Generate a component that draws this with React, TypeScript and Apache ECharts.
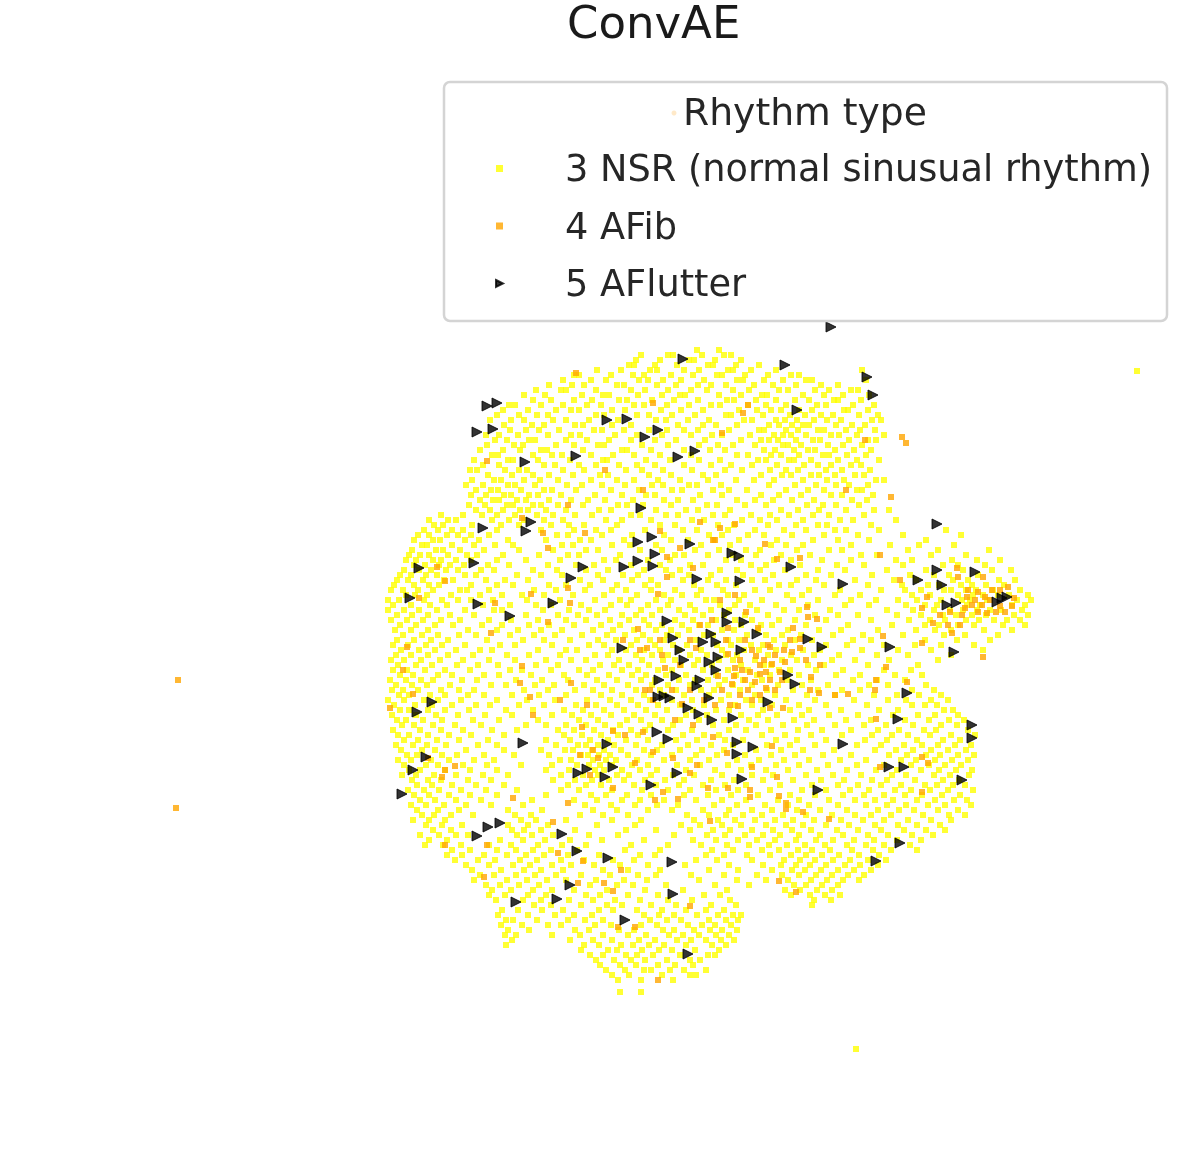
import React, { useEffect, useRef } from "react";
import * as echarts from "echarts";

const chartTitle = "ConvAE";
const legendTitle = "Rhythm type";
const seriesNames = ["3 NSR (normal sinusual rhythm)", "4 AFib", "5 AFlutter"];

const nsrTop: number[][] = [
  [350, 697, 719],
  [355, 641, 668, 673, 702, 724, 731],
  [360, 636, 660, 689, 694, 715, 741],
  [365, 629, 634, 655, 677, 708, 713, 736, 759],
  [370, 597, 621, 650, 657, 684, 699, 728, 733, 751, 776, 862],
  [375, 574, 579, 611, 633, 644, 671, 693, 717, 722, 745, 768, 791, 799],
  [380, 563, 591, 606, 639, 648, 663, 681, 704, 737, 743, 764, 783, 806, 812, 866],
  [385, 549, 572, 584, 617, 624, 657, 676, 698, 711, 726, 754, 773, 796, 821, 838],
  [390, 536, 561, 566, 596, 631, 645, 668, 691, 707, 733, 749, 779, 788, 815, 829, 851, 858],
  [395, 524, 545, 582, 603, 609, 638, 662, 680, 685, 719, 741, 762, 767, 803, 824, 843, 869],
  [400, 533, 551, 574, 592, 619, 627, 652, 674, 698, 727, 734, 756, 776, 795, 809, 834, 838, 861],
  [405, 509, 515, 541, 563, 587, 601, 634, 644, 667, 689, 711, 720, 748, 766, 786, 817, 826, 853, 874],
  [410, 503, 528, 556, 571, 579, 612, 625, 661, 681, 703, 739, 757, 771, 781, 799, 812, 844, 848, 868],
  [415, 497, 519, 537, 548, 596, 604, 637, 649, 672, 695, 726, 731, 763, 790, 805, 821, 833, 859, 878],
  [420, 490, 511, 524, 553, 566, 589, 618, 656, 666, 688, 709, 744, 752, 776, 785, 797, 814, 827, 841, 872, 881],
  [425, 504, 532, 544, 575, 583, 612, 631, 678, 703, 716, 737, 769, 779, 792, 803, 809, 836, 852, 865],
  [430, 510, 526, 539, 559, 594, 602, 624, 649, 667, 684, 698, 729, 759, 764, 786, 798, 818, 824, 846, 860, 875],
  [435, 486, 499, 518, 548, 571, 580, 615, 637, 662, 691, 712, 722, 750, 774, 783, 791, 806, 831, 839, 857, 884],
  [440, 495, 507, 529, 535, 566, 587, 609, 631, 655, 676, 705, 741, 761, 769, 778, 796, 813, 820, 849, 868, 876],
  [445, 487, 514, 523, 556, 574, 598, 604, 642, 668, 699, 718, 733, 755, 783, 788, 801, 828, 843, 862],
  [450, 480, 503, 520, 541, 547, 583, 622, 627, 651, 684, 710, 725, 764, 775, 794, 808, 815, 835, 854, 871],
  [455, 492, 498, 533, 552, 562, 591, 613, 634, 660, 691, 737, 748, 771, 781, 799, 823, 829, 847, 866],
  [460, 474, 508, 513, 538, 570, 603, 607, 646, 670, 699, 720, 758, 766, 789, 794, 811, 838, 857, 879],
  [465, 483, 499, 544, 555, 579, 596, 619, 637, 655, 684, 711, 731, 752, 777, 804, 818, 831, 851, 861],
  [470, 470, 477, 505, 519, 527, 563, 584, 626, 642, 663, 692, 725, 742, 770, 786, 798, 826, 842, 870],
  [475, 488, 512, 533, 549, 573, 600, 608, 649, 671, 703, 716, 761, 782, 791, 811, 819, 835, 855, 864],
  [480, 472, 494, 501, 524, 540, 558, 591, 617, 634, 658, 680, 708, 736, 754, 774, 803, 827, 844, 876, 884],
  [485, 466, 483, 508, 515, 535, 567, 582, 602, 625, 652, 663, 689, 697, 721, 769, 795, 816, 836, 849, 868],
  [490, 476, 491, 498, 521, 544, 552, 576, 611, 639, 672, 682, 713, 729, 747, 786, 808, 824, 857, 862],
  [495, 471, 486, 504, 511, 529, 538, 561, 595, 622, 646, 655, 700, 722, 761, 779, 801, 831, 842, 873],
  [500, 480, 493, 499, 517, 526, 549, 571, 588, 605, 633, 664, 678, 693, 737, 755, 773, 792, 814, 852, 867],
  [505, 469, 485, 507, 513, 533, 541, 558, 583, 618, 627, 643, 671, 707, 717, 745, 766, 807, 823, 836, 859],
  [510, 476, 490, 503, 520, 528, 546, 566, 599, 611, 656, 686, 698, 730, 781, 798, 819, 846, 874, 889],
  [515, 441, 463, 482, 497, 515, 537, 553, 575, 592, 631, 640, 666, 678, 713, 725, 751, 770, 789, 813, 829, 864],
  [520, 429, 448, 456, 492, 509, 524, 544, 563, 606, 622, 651, 692, 704, 742, 760, 777, 803, 840, 853, 896],
  [525, 434, 443, 472, 501, 519, 551, 569, 584, 617, 660, 675, 718, 734, 768, 796, 818, 827, 871],
];

const nsrUpper: number[][] = [
  [530, 424, 438, 452, 463, 497, 541, 574, 596, 611, 645, 683, 697, 728, 755, 784, 806, 835, 846, 879, 946],
  [535, 418, 429, 447, 458, 471, 489, 557, 568, 602, 632, 664, 709, 722, 748, 764, 792, 824, 858, 903, 961],
  [540, 414, 433, 440, 465, 479, 508, 546, 580, 591, 624, 671, 688, 714, 739, 777, 813, 838, 869, 926],
  [545, 422, 427, 452, 474, 495, 513, 562, 573, 612, 630, 656, 701, 730, 771, 786, 803, 851, 890, 919, 954],
  [550, 412, 436, 443, 460, 484, 519, 553, 586, 598, 640, 662, 695, 719, 746, 760, 797, 829, 842, 908, 938, 989],
  [555, 409, 420, 429, 448, 467, 477, 503, 539, 568, 579, 620, 675, 684, 708, 733, 756, 781, 810, 861, 877, 931, 966],
  [560, 406, 416, 433, 441, 456, 471, 497, 526, 560, 604, 616, 648, 670, 726, 741, 774, 791, 822, 851, 896, 912, 952, 977, 1000],
  [565, 414, 425, 439, 450, 464, 488, 509, 548, 576, 594, 631, 660, 690, 703, 751, 766, 800, 837, 864, 903, 943, 958, 985],
  [570, 404, 419, 431, 446, 458, 481, 494, 533, 557, 586, 608, 644, 666, 680, 720, 737, 760, 785, 818, 845, 887, 926, 963, 992, 1011],
  [575, 400, 411, 426, 437, 465, 476, 517, 541, 562, 598, 623, 638, 672, 689, 711, 743, 773, 806, 831, 872, 910, 934, 949, 978],
  [580, 397, 408, 423, 444, 453, 486, 505, 528, 580, 603, 632, 651, 683, 708, 726, 752, 765, 797, 816, 855, 894, 916, 953, 968, 999, 1015],
  [585, 394, 414, 429, 439, 471, 497, 513, 549, 566, 590, 617, 645, 658, 694, 717, 736, 779, 791, 824, 868, 902, 928, 939, 961, 972, 986, 1004],
  [590, 391, 403, 418, 433, 460, 467, 489, 534, 556, 585, 612, 626, 651, 675, 701, 723, 755, 770, 809, 840, 881, 905, 921, 944, 951, 966, 976, 993, 1020],
  [595, 406, 415, 427, 451, 480, 502, 522, 544, 573, 604, 637, 664, 682, 697, 728, 744, 787, 802, 835, 860, 912, 930, 958, 973, 983, 998, 1009, 1028],
  [600, 388, 399, 424, 442, 458, 471, 493, 527, 560, 595, 620, 631, 656, 671, 706, 714, 739, 762, 793, 818, 851, 876, 898, 917, 941, 962, 970, 987, 1017, 1031],
  [605, 393, 411, 430, 447, 483, 510, 536, 551, 581, 611, 627, 648, 668, 690, 720, 735, 750, 776, 808, 845, 869, 906, 925, 937, 967, 980, 1012, 1025],
  [610, 388, 404, 419, 437, 465, 494, 502, 543, 569, 589, 605, 641, 660, 679, 695, 711, 729, 757, 784, 799, 830, 887, 913, 934, 950, 963, 977, 990, 1001, 1022],
  [615, 397, 412, 428, 450, 474, 526, 558, 578, 597, 622, 636, 652, 685, 703, 724, 745, 768, 815, 838, 858, 897, 921, 943, 956, 972, 986, 1014, 1028],
  [620, 391, 407, 423, 441, 460, 489, 511, 538, 566, 586, 610, 629, 644, 675, 693, 716, 735, 752, 779, 795, 826, 871, 909, 930, 945, 966, 979, 994, 1007, 1020],
  [625, 400, 416, 435, 453, 482, 502, 529, 549, 574, 601, 620, 649, 662, 682, 699, 708, 741, 761, 772, 806, 848, 892, 925, 939, 958, 974, 1003, 1025],
  [630, 395, 411, 428, 468, 497, 518, 541, 562, 593, 613, 634, 656, 671, 689, 722, 734, 758, 788, 819, 841, 878, 916, 935, 951, 984, 1012],
  [635, 403, 422, 438, 459, 476, 510, 534, 555, 582, 607, 625, 643, 667, 678, 704, 713, 747, 766, 782, 801, 833, 863, 903, 944, 965, 998],
  [640, 397, 414, 431, 448, 487, 523, 544, 570, 598, 616, 637, 650, 664, 696, 728, 739, 774, 795, 812, 853, 871, 925, 957, 990],
  [645, 393, 408, 426, 442, 465, 500, 515, 552, 589, 604, 631, 655, 673, 687, 717, 731, 751, 763, 785, 826, 847, 884, 915, 941, 974],
  [650, 401, 419, 435, 456, 480, 492, 538, 566, 577, 612, 626, 644, 660, 679, 701, 722, 744, 759, 776, 803, 820, 862, 898, 931, 983],
  [655, 396, 411, 428, 448, 473, 507, 529, 560, 595, 608, 636, 652, 668, 690, 707, 726, 737, 768, 791, 814, 839, 877, 908, 951],
  [660, 391, 404, 421, 440, 463, 489, 515, 546, 571, 586, 619, 642, 663, 675, 698, 719, 733, 755, 782, 797, 832, 855, 889, 938],
  [665, 398, 416, 432, 457, 478, 498, 536, 558, 600, 614, 629, 649, 681, 694, 712, 741, 764, 771, 808, 824, 868, 918],
  [670, 393, 407, 425, 445, 470, 510, 522, 551, 579, 593, 622, 638, 658, 672, 703, 728, 748, 779, 790, 816, 843, 884, 911],
  [675, 400, 413, 438, 452, 484, 499, 531, 564, 587, 609, 632, 646, 666, 686, 716, 736, 757, 770, 799, 836, 860, 895, 922],
  [680, 390, 406, 421, 433, 462, 477, 516, 542, 568, 597, 617, 641, 655, 679, 695, 708, 725, 743, 762, 787, 811, 853, 877, 905],
  [685, 396, 412, 427, 450, 491, 506, 535, 554, 584, 604, 628, 652, 668, 690, 719, 733, 752, 778, 802, 828, 869, 888, 926],
  [690, 392, 403, 418, 441, 459, 474, 524, 548, 575, 593, 612, 636, 660, 676, 701, 714, 740, 767, 793, 818, 842, 860, 912, 934],
  [695, 399, 409, 430, 445, 468, 484, 512, 539, 566, 601, 622, 644, 664, 684, 709, 729, 755, 775, 807, 835, 874, 897, 919, 941],
];

const nsrLower: number[][] = [
  [700, 388, 404, 424, 438, 461, 497, 527, 555, 587, 610, 631, 650, 672, 692, 721, 746, 761, 786, 815, 854, 888, 906, 931, 948],
  [705, 394, 415, 432, 452, 476, 490, 519, 544, 576, 596, 617, 638, 658, 680, 704, 735, 752, 772, 799, 826, 867, 912, 925, 937],
  [710, 400, 409, 428, 445, 469, 506, 533, 564, 583, 604, 624, 646, 667, 693, 716, 729, 763, 790, 809, 841, 879, 898, 944, 953],
  [715, 392, 416, 436, 458, 485, 512, 552, 572, 591, 611, 634, 655, 686, 707, 741, 758, 777, 802, 829, 858, 893, 918, 935, 958],
  [720, 397, 406, 423, 442, 473, 499, 538, 579, 598, 627, 641, 662, 680, 699, 724, 749, 768, 794, 814, 846, 871, 905, 929, 949, 964],
  [725, 402, 414, 433, 455, 481, 526, 546, 566, 586, 605, 620, 650, 673, 713, 736, 756, 783, 807, 835, 864, 886, 913, 941, 957],
  [730, 393, 420, 441, 463, 492, 517, 558, 574, 594, 613, 631, 645, 668, 692, 729, 746, 771, 798, 822, 851, 878, 899, 924, 936, 968],
  [735, 398, 409, 428, 449, 471, 504, 564, 582, 601, 618, 638, 683, 704, 719, 762, 785, 811, 842, 872, 892, 908, 930, 951, 975],
  [740, 404, 418, 437, 459, 488, 546, 570, 590, 608, 626, 648, 676, 697, 725, 743, 776, 797, 826, 865, 887, 917, 943, 960],
  [745, 396, 413, 427, 446, 478, 497, 556, 578, 586, 598, 614, 636, 662, 688, 711, 733, 767, 790, 815, 857, 881, 904, 922, 938, 955, 971],
  [750, 401, 422, 435, 466, 504, 541, 565, 573, 592, 604, 621, 644, 657, 680, 702, 724, 756, 781, 803, 834, 875, 896, 913, 931, 948, 966],
  [755, 407, 417, 442, 457, 484, 514, 549, 581, 588, 599, 610, 628, 651, 672, 696, 717, 745, 771, 795, 823, 851, 889, 907, 926, 940, 958, 974],
  [760, 398, 411, 431, 449, 474, 494, 560, 571, 593, 606, 616, 637, 664, 690, 709, 737, 759, 784, 809, 840, 866, 901, 916, 935, 952, 968],
  [765, 404, 426, 438, 463, 487, 521, 552, 577, 589, 600, 612, 632, 648, 677, 700, 728, 751, 776, 799, 828, 857, 884, 911, 929, 945, 961],
  [770, 409, 420, 445, 470, 497, 546, 569, 595, 604, 622, 640, 657, 686, 715, 741, 766, 788, 817, 847, 876, 897, 921, 939, 956, 972],
  [775, 402, 416, 434, 456, 483, 508, 561, 583, 598, 617, 629, 651, 673, 694, 722, 752, 773, 806, 833, 861, 892, 906, 934, 950, 969],
  [780, 412, 428, 441, 468, 491, 553, 575, 592, 609, 624, 645, 665, 684, 711, 734, 763, 793, 821, 844, 872, 887, 915, 943, 959],
  [785, 417, 432, 452, 476, 504, 568, 586, 601, 634, 656, 679, 703, 725, 746, 780, 812, 838, 858, 881, 901, 925, 937, 953, 965],
  [790, 408, 424, 439, 461, 486, 517, 561, 579, 612, 642, 668, 690, 716, 738, 770, 802, 826, 850, 869, 895, 911, 930, 948, 973],
  [795, 414, 429, 449, 470, 497, 546, 591, 606, 627, 651, 684, 708, 731, 758, 790, 815, 843, 864, 884, 905, 922, 942, 960],
  [800, 420, 435, 456, 481, 532, 574, 597, 622, 640, 664, 696, 722, 746, 778, 799, 829, 855, 875, 893, 917, 935, 954, 967],
  [805, 411, 426, 444, 466, 491, 523, 585, 611, 635, 657, 678, 714, 737, 765, 788, 809, 838, 866, 887, 906, 928, 945, 971],
  [810, 417, 438, 459, 508, 542, 593, 617, 648, 672, 703, 729, 752, 772, 797, 820, 847, 878, 899, 914, 938, 958],
  [815, 422, 434, 451, 473, 515, 531, 580, 603, 628, 687, 709, 726, 743, 762, 783, 806, 832, 855, 871, 891, 923, 949, 965],
  [820, 413, 429, 445, 521, 536, 566, 612, 641, 694, 718, 735, 755, 775, 793, 814, 841, 863, 884, 908, 931, 951],
  [825, 426, 442, 462, 508, 528, 548, 597, 635, 681, 700, 722, 741, 766, 786, 803, 826, 849, 875, 898, 917, 940],
  [830, 433, 451, 512, 524, 541, 575, 626, 656, 690, 713, 730, 752, 773, 792, 811, 837, 858, 881, 904, 926, 945],
  [835, 420, 439, 456, 468, 517, 532, 553, 589, 618, 674, 707, 725, 745, 763, 780, 799, 820, 843, 868, 888, 912, 933],
  [840, 429, 447, 500, 523, 545, 570, 602, 644, 693, 716, 738, 757, 775, 796, 816, 833, 854, 874, 897, 921],
  [845, 425, 443, 461, 489, 511, 538, 562, 586, 631, 668, 701, 727, 749, 769, 787, 805, 825, 847, 866, 884, 910],
  [850, 452, 470, 497, 516, 533, 551, 577, 625, 660, 712, 733, 762, 779, 798, 812, 830, 852, 873, 891, 917],
  [855, 447, 462, 484, 507, 526, 544, 568, 599, 640, 655, 706, 724, 747, 770, 791, 806, 822, 839, 859, 879],
  [860, 455, 478, 495, 520, 537, 561, 584, 613, 634, 696, 717, 752, 784, 800, 815, 833, 850, 868, 886],
  [865, 466, 489, 513, 530, 552, 571, 594, 620, 648, 685, 729, 763, 781, 796, 810, 826, 845, 860, 878],
  [870, 472, 501, 524, 541, 563, 603, 628, 660, 709, 738, 772, 792, 805, 821, 838, 854, 871],
  [875, 480, 494, 516, 535, 556, 581, 610, 638, 656, 691, 724, 757, 782, 799, 816, 832, 848, 864],
  [880, 474, 507, 527, 547, 566, 596, 624, 647, 699, 737, 766, 788, 811, 827, 843, 859],
  [885, 486, 500, 519, 539, 590, 617, 633, 666, 715, 749, 794, 806, 822, 838],
  [890, 492, 511, 533, 552, 574, 607, 645, 683, 727, 785, 800, 817, 832],
  [895, 489, 505, 528, 546, 586, 600, 628, 658, 704, 720, 791, 810, 825, 840],
  [900, 496, 523, 541, 569, 593, 615, 640, 668, 692, 730, 814, 831],
  [905, 534, 551, 581, 607, 622, 651, 676, 711, 736, 812],
  [910, 502, 518, 542, 563, 599, 613, 637, 662, 686, 706, 724],
  [915, 498, 528, 555, 574, 592, 644, 659, 674, 697, 718, 733, 741],
  [920, 506, 513, 537, 568, 585, 603, 650, 667, 681, 709, 726, 738],
  [925, 501, 522, 548, 561, 595, 611, 641, 657, 688, 702, 715, 731],
  [930, 508, 529, 575, 589, 619, 634, 663, 674, 694, 710, 722, 737],
  [935, 505, 516, 552, 580, 603, 628, 646, 669, 683, 699, 716, 729],
  [940, 512, 570, 593, 612, 639, 655, 677, 691, 706, 721, 734],
  [945, 506, 584, 599, 621, 633, 649, 664, 686, 712, 726],
  [950, 581, 608, 617, 642, 659, 672, 695, 719],
  [955, 590, 603, 626, 637, 653, 680, 708, 715],
  [960, 596, 614, 631, 645, 667, 690, 700],
  [965, 600, 620, 636, 658, 675, 693],
  [970, 606, 625, 644, 651, 670, 684, 706],
  [975, 612, 629, 662, 690, 696],
  [980, 618, 641, 673],
  [992, 620, 641],
  [371, 1137],
  [1049, 856],
];

const afibPoints: number[][] = [
  [178, 680], [176, 808],
  [576, 373], [653, 403], [487, 461], [605, 470], [643, 490], [568, 505], [522, 518], [543, 533], [585, 533], [548, 548], [437, 567], [445, 581], [419, 598], [495, 603], [531, 594], [570, 603], [548, 622], [491, 633], [407, 647], [403, 670], [522, 666], [623, 640], [647, 648], [638, 629], [700, 522], [660, 531], [680, 548], [667, 557], [713, 540], [693, 568], [667, 577], [658, 594], [568, 588],
  [748, 405], [743, 413], [722, 433], [865, 440], [902, 437], [906, 443], [846, 490], [891, 497], [720, 528], [735, 524], [715, 540], [765, 544], [777, 559], [800, 558], [880, 555], [900, 580], [927, 597], [922, 608], [957, 568], [958, 577], [983, 577], [1008, 587], [967, 597], [972, 605], [985, 597], [987, 613], [1005, 612], [933, 623], [948, 625], [960, 625], [952, 633], [883, 636], [922, 643], [983, 657], [886, 667], [807, 607], [808, 617], [817, 619], [793, 628], [800, 639], [770, 647],
  [968, 590], [978, 592], [992, 590], [1000, 606], [978, 612], [962, 615], [940, 615], [996, 612], [975, 600], [1012, 606], [982, 605], [990, 600], [965, 608], [950, 612], [1000, 590], [1014, 598],
  [745, 640], [752, 650], [768, 645], [775, 655], [760, 665], [735, 668], [745, 680], [755, 682], [770, 680], [785, 662], [800, 648], [775, 690], [760, 695], [740, 695], [722, 690], [715, 705], [730, 705], [790, 640], [806, 660], [770, 708], [680, 665], [690, 640], [700, 625], [726, 640], [690, 690], [665, 668], [650, 690], [653, 700], [645, 690], [662, 655], [640, 650], [675, 720], [693, 725], [660, 640], [720, 600], [735, 595], [810, 690], [820, 665], [835, 695],
  [740, 660], [750, 672], [766, 672], [780, 672], [792, 652], [732, 684], [752, 700], [738, 706], [764, 660], [728, 654], [704, 700], [718, 676], [712, 620], [696, 648], [672, 690], [682, 704], [728, 628], [758, 628], [746, 612], [742, 670], [756, 656], [772, 664], [782, 680], [766, 688], [748, 690], [734, 676], [760, 674], [784, 650],
  [520, 683], [571, 683], [530, 697], [560, 700], [587, 705], [533, 715], [390, 708], [413, 694], [582, 727], [613, 731], [625, 735], [643, 732], [593, 750], [598, 758], [580, 755], [590, 775], [635, 763], [653, 752], [673, 758], [697, 765], [690, 773], [613, 788], [663, 792], [708, 788], [678, 799], [655, 800], [513, 798], [568, 803], [445, 770], [455, 766], [442, 777], [428, 758], [553, 822], [710, 821], [445, 845], [487, 845], [558, 853], [583, 861], [621, 870], [604, 883], [613, 891], [484, 877], [578, 883], [690, 906], [635, 927], [618, 927], [658, 980],
  [811, 677], [876, 680], [907, 682], [819, 693], [848, 694], [875, 690], [783, 708], [876, 719], [922, 757], [928, 763], [880, 767], [772, 746], [713, 737], [727, 753], [752, 767], [777, 777], [728, 788], [750, 790], [750, 797], [779, 796], [786, 803], [786, 809], [803, 812], [829, 819], [922, 792], [779, 881], [796, 892],
];

const aflutterPoints: number[][] = [
  [831, 327], [683, 359], [785, 365], [867, 377], [873, 395], [797, 410], [487, 406], [497, 403], [477, 432], [493, 429], [607, 420], [627, 419], [645, 437], [658, 430], [525, 462], [576, 456], [678, 457], [695, 451], [641, 508],
  [483, 528], [531, 522], [526, 531], [419, 568], [474, 563], [410, 598], [478, 604], [510, 616], [553, 603], [583, 567], [571, 578], [638, 542], [652, 537], [690, 544], [638, 561], [655, 554], [653, 566], [624, 567], [697, 579], [622, 648],
  [937, 524], [937, 570], [918, 580], [942, 585], [975, 572], [843, 584], [791, 567], [740, 581], [732, 553], [739, 556], [947, 605], [956, 603], [1002, 598], [997, 602], [1007, 597], [890, 647], [954, 652], [808, 639], [822, 647],
  [667, 621], [727, 613], [727, 622], [744, 622], [757, 634], [673, 638], [680, 650], [684, 660], [711, 634], [703, 642], [716, 642], [741, 650], [709, 662], [718, 657], [716, 670], [676, 676], [659, 680], [700, 680], [697, 686], [664, 696], [670, 698], [658, 697], [709, 698], [688, 708], [699, 714], [712, 720], [733, 718], [768, 702], [788, 675], [795, 684],
  [432, 702], [417, 712], [523, 743], [426, 757], [413, 770], [402, 794], [607, 744], [587, 769], [578, 773], [613, 767], [605, 777], [677, 773], [651, 785], [657, 732], [668, 739], [500, 823], [488, 827], [477, 836], [562, 834], [577, 851], [608, 858], [672, 862], [673, 894], [570, 885], [557, 899], [516, 902], [625, 920], [688, 954],
  [737, 742], [737, 754], [753, 747], [843, 744], [742, 779], [818, 790], [898, 719], [907, 693], [972, 725], [972, 738], [962, 780], [889, 767], [904, 767], [900, 843], [876, 861],
];

const nsrPoints = [...nsrTop, ...nsrUpper, ...nsrLower].flatMap((row) => row.slice(1).map((x) => [x, row[0]]));
const rightTriangle = "path://M0,0L10,5L0,10Z";

export default function App() {
  const ref = useRef<HTMLDivElement>(null);
  useEffect(() => {
    const chart = echarts.init(ref.current!, null, { renderer: "svg" });
    chart.setOption({
      animation: false,
      backgroundColor: "#ffffff",
      title: {
        text: chartTitle,
        left: 567,
        top: 0,
        padding: 0,
        textStyle: { fontFamily: "DejaVu Sans", fontSize: 45, fontWeight: "normal", color: "#1a1a1a" },
      },
      grid: { left: 0, right: 0, top: 0, bottom: 0 },
      xAxis: { type: "value", min: 0, max: 1196, show: false },
      yAxis: { type: "value", min: 0, max: 1173, inverse: true, show: false },
      legend: {
        left: 490,
        top: 145,
        z: 10,
        orient: "vertical",
        itemWidth: 7,
        itemHeight: 7,
        itemGap: 20.5,
        data: [
          { name: seriesNames[0] },
          { name: seriesNames[1] },
          { name: seriesNames[2], icon: rightTriangle },
        ],
        selectedMode: false,
        textStyle: {
          fontFamily: "DejaVu Sans",
          fontSize: 36.7,
          color: "#262626",
          padding: [0, 0, 0, 57],
        },
      },
      graphic: [
        {
          type: "rect",
          z: 5,
          shape: { x: 444, y: 82, width: 723, height: 239, r: 6 },
          style: { fill: "rgba(255,255,255,0.8)", stroke: "#d4d4d4", lineWidth: 2.5 },
        },
        {
          type: "text",
          z: 6,
          x: 683,
          y: 112,
          style: {
            text: legendTitle,
            fill: "#262626",
            fontFamily: "DejaVu Sans",
            fontSize: 37.7,
            verticalAlign: "middle",
          },
        },
        { type: "circle", z: 6, shape: { cx: 674, cy: 113, r: 2.5 }, style: { fill: "#ffe9c8" } },
      ],
      series: [
        {
          name: seriesNames[0],
          type: "scatter",
          data: nsrPoints,
          symbol: "rect",
          symbolSize: 6,
          itemStyle: { color: "#ffff00" },
          silent: true,
          z: 2,
        },
        {
          name: seriesNames[1],
          type: "scatter",
          data: afibPoints,
          symbol: "rect",
          symbolSize: 6,
          itemStyle: { color: "#ffa500", opacity: 0.8 },
          silent: true,
          z: 3,
        },
        {
          name: seriesNames[2],
          type: "scatter",
          data: aflutterPoints,
          symbol: rightTriangle,
          symbolSize: 10,
          itemStyle: { color: "#000000", borderColor: "#000000", borderWidth: 1 },
          silent: true,
          z: 4,
        },
      ],
    });
    return () => chart.dispose();
  }, []);
  return (
    <div
      ref={ref}
      style={{ position: "absolute", left: 0, top: 0, width: 1196, height: 1173, filter: "blur(0.5px)" }}
    />
  );
}
